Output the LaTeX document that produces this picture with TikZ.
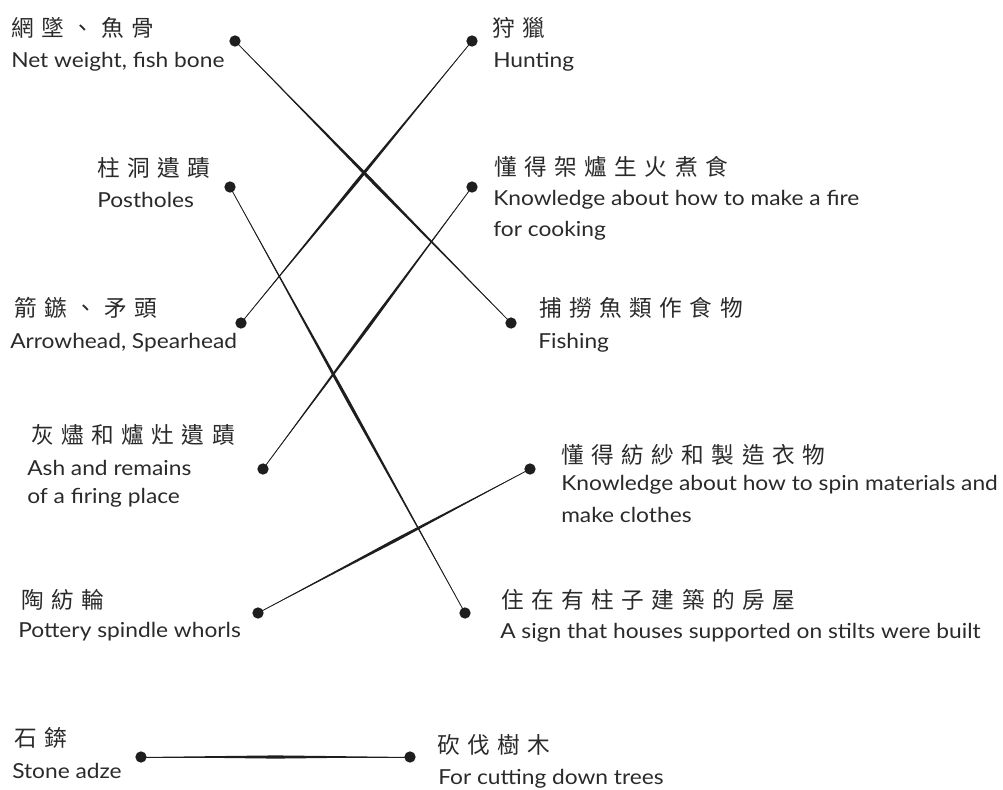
\documentclass[tikz,border=0pt]{standalone}
\usepackage{fontspec}
\setmainfont{Lato}[FakeStretch=1.10]
\newfontfamily\cjk{Noto Sans CJK TC}[LetterSpace=33]
\usetikzlibrary{calc,backgrounds}
\definecolor{ink}{HTML}{1E1E1E}
\definecolor{txt}{HTML}{2A2A2A}
\tikzset{
  x=0.75pt, y=-0.75pt,
  dot/.style={circle, fill=ink, inner sep=0pt, minimum size=8.5pt},
  zh/.style={anchor=base west, inner sep=0pt, text=txt, font=\cjk\fontsize{17}{19}\selectfont},
  en/.style={anchor=base west, inner sep=0pt, text=txt, font=\fontsize{15.5}{18}\selectfont},
  brushbase/.style={draw=ink, line width=0.6pt},
  brushbody/.style={fill=ink},
}
\newcommand\brushline[2]{%
  \draw[brushbase] (#1.center) -- (#2.center);
  \fill[brushbody] (#1.center) -- ($(#1)!0.5!(#2)!1.2pt!90:(#2)$) -- (#2.center) -- ($(#1)!0.5!(#2)!1.2pt!-90:(#2)$) -- cycle;
}
\begin{document}
\begin{tikzpicture}
\useasboundingbox (0,0) rectangle (1003,789);

% texts
\node[zh] (z1) at (11,36) {網墜、魚骨};
\node[en] (e1) at (11,67) {Net weight, fish bone};
\node[zh] (z2) at (492,36) {狩獵};
\node[en] (e2) at (493,67) {Hunting};
\node[zh] (z3) at (97,176) {柱洞遺蹟};
\node[en] (e3) at (97,207) {Postholes};
\node[zh] (z4) at (494,175) {懂得架爐生火煮食};
\node[en] (e4a) at (493,205) {Knowledge about how to make a fire};
\node[en] (e4b) at (493,236) {for cooking};
\node[zh] (z5) at (14,316) {箭鏃、矛頭};
\node[en] (e5) at (10,348) {Arrowhead, Spearhead};
\node[zh] (z6) at (539,316) {捕撈魚類作食物};
\node[en] (e6) at (538,348) {Fishing};
\node[zh] (z7) at (31,443) {灰燼和爐灶遺蹟};
\node[en] (e7a) at (27,475) {Ash and remains};
\node[en] (e7b) at (27,503) {of a firing place};
\node[zh] (z8) at (561,463) {懂得紡紗和製造衣物};
\node[en] (e8a) at (561,490) {Knowledge about how to spin materials and};
\node[en] (e8b) at (561,522) {make clothes};
\node[zh] (z9) at (21,608) {陶紡輪};
\node[en] (e9) at (18,637) {Pottery spindle whorls};
\node[zh] (z10) at (501,608) {住在有柱子建築的房屋};
\node[en] (e10) at (500,638) {A sign that houses supported on stilts were built};
\node[zh] (z11) at (14,746) {石錛};
\node[en] (e11) at (12,778) {Stone adze};
\node[zh] (z12) at (437,753) {砍伐樹木};
\node[en] (e12) at (438,784) {For cutting down trees};

% dots
\node[dot] (nw) at (235,41) {};
\node[dot] (hunt) at (472,41) {};
\node[dot] (post) at (230,187) {};
\node[dot] (fire) at (472,187) {};
\node[dot] (arrow) at (241,323) {};
\node[dot] (fish) at (511,323) {};
\node[dot] (ash) at (263,469) {};
\node[dot] (spin) at (530,469) {};
\node[dot] (pot) at (258,613) {};
\node[dot] (stilt) at (465,613) {};
\node[dot] (adze) at (141,757) {};
\node[dot] (tree) at (410,757) {};

% connectors
\begin{pgfonlayer}{background}
\brushline{nw}{fish}
\brushline{hunt}{arrow}
\brushline{post}{stilt}
\brushline{fire}{ash}
\brushline{spin}{pot}
\brushline{adze}{tree}
\end{pgfonlayer}
\end{tikzpicture}
\end{document}
